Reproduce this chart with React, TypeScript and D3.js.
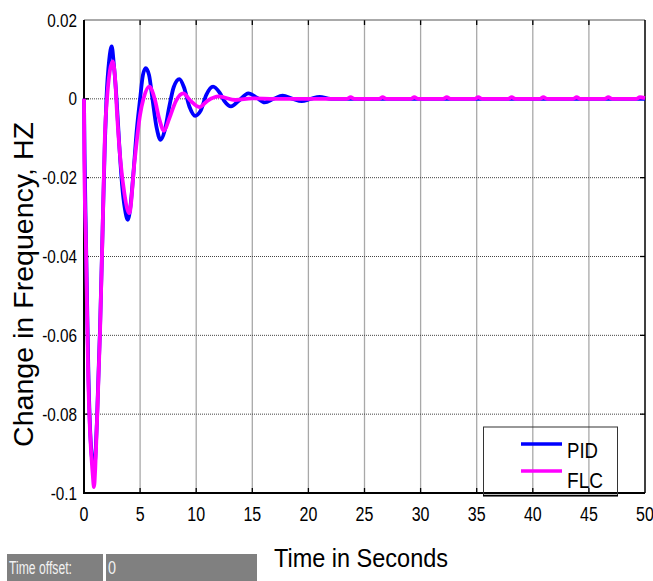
import React from "react";
import * as d3 from "d3";

// axis ticks
const xTicks = [0, 5, 10, 15, 20, 25, 30, 35, 40, 45, 50];
const yTicks = [-0.1, -0.08, -0.06, -0.04, -0.02, 0, 0.02];
const yTickLabels = ["-0.1", "-0.08", "-0.06", "-0.04", "-0.02", "0", "0.02"];

// PID response [time s, delta f Hz]
const pidSeries: [number, number][] = [
  [0, 0], [0.05, -0.014], [0.18, -0.036], [0.38, -0.068], [0.6, -0.087], [0.9, -0.094],
  [1.15, -0.082], [1.43, -0.058], [1.66, -0.033], [1.85, -0.012], [2.0, 0],
  [2.25, 0.01], [2.47, 0.0133], [2.65, 0.009], [2.9, 0], [3.15, -0.012],
  [3.4, -0.022], [3.65, -0.028], [3.9, -0.0307], [4.15, -0.027], [4.4, -0.019],
  [4.7, -0.008], [5.0, 0], [5.25, 0.006], [5.5, 0.0078], [5.8, 0.006], [6.1, 0],
  [6.45, -0.007], [6.83, -0.0104], [7.2, -0.008], [7.6, -0.002], [8.0, 0.003],
  [8.5, 0.005], [8.9, 0.003], [9.4, -0.002], [9.9, -0.0043], [10.4, -0.003],
  [10.9, 0.001], [11.5, 0.0031], [12.1, 0.0015], [12.5, -0.0005], [13.1, -0.0019],
  [13.8, -0.0005], [14.65, 0.0014], [15.4, 0.0003], [16.1, -0.0009], [16.9, 0],
  [17.7, 0.0008], [18.6, 0], [19.4, -0.0006], [20.2, 0], [21.0, 0.0005], [22.0, 0],
  [50, 0],
];

// FLC response [time s, delta f Hz]
const flcSeries: [number, number][] = [
  [0, 0], [0.03, -0.016], [0.18, -0.038], [0.3, -0.059], [0.38, -0.071],
  [0.53, -0.084], [0.77, -0.095], [0.89, -0.0985], [1.0, -0.094], [1.13, -0.084],
  [1.43, -0.059], [1.66, -0.033], [1.87, -0.0085], [2.05, 0], [2.3, 0.007],
  [2.55, 0.0095], [2.75, 0.006], [2.95, -0.004], [3.26, -0.016], [3.6, -0.024],
  [4.04, -0.029], [4.5, -0.016], [5.0, -0.004], [5.3, 0], [5.82, 0.0031],
  [6.3, 0], [6.7, -0.005], [7.13, -0.0081], [7.6, -0.005], [8.2, -0.0005],
  [8.85, 0.0014], [9.5, -0.0005], [10.28, -0.0021], [11.0, -0.0005], [12.0, 0.0006],
  [13.5, -0.0003], [15.0, 0.0001], [17.0, 0],
  [23.4, 0], [23.77, 0.0004], [24.1, 0],
  [26.3, 0], [26.62, 0.0004], [26.95, 0],
  [29.1, 0], [29.44, 0.0004], [29.8, 0],
  [32.0, 0], [32.33, 0.0004], [32.7, 0],
  [34.8, 0], [35.14, 0.0004], [35.5, 0],
  [37.8, 0], [38.12, 0.0004], [38.45, 0],
  [40.6, 0], [40.94, 0.0004], [41.3, 0],
  [43.6, 0], [43.91, 0.0004], [44.25, 0],
  [46.4, 0], [46.73, 0.0004], [47.1, 0],
  [49.2, 0], [49.55, 0.0004], [50, 0.0002],
];

const W = 653;
const H = 581;
const L = 84;
const R = 645;
const T = 20;
const B = 493;
const FONT = "'Liberation Sans', Arial, sans-serif";

export default function App() {
  const x = d3.scaleLinear().domain([0, 50]).range([L, R]);
  const y = d3.scaleLinear().domain([-0.1, 0.02]).range([B, T]);
  const line = d3
    .line<[number, number]>()
    .x((d) => x(d[0]))
    .y((d) => y(d[1]))
    .curve(d3.curveMonotoneX);

  return (
    <svg
      width={W}
      height={H}
      style={{ position: "absolute", left: 0, top: 0, background: "#fff" }}
      fontFamily={FONT}
    >
      <rect x={0} y={0} width={W} height={H} fill="#fff" />

      {/* grid */}
      {xTicks.slice(1, -1).map((t) => (
        <g key={"gx" + t}>
          <line x1={x(t)} x2={x(t)} y1={T} y2={B} stroke="#a8a8a8" strokeWidth={1.3} />
          <line x1={x(t)} x2={x(t)} y1={B} y2={B - 5} stroke="#000" strokeWidth={1.3} />
          <line x1={x(t)} x2={x(t)} y1={T} y2={T + 5} stroke="#000" strokeWidth={1.3} />
        </g>
      ))}
      {yTicks.slice(1, -1).map((v) => (
        <g key={"gy" + v}>
          <line x1={L} x2={R} y1={y(v)} y2={y(v)} stroke="#444" strokeWidth={1} strokeDasharray="1,1" />
          <line x1={L} x2={L + 5} y1={y(v)} y2={y(v)} stroke="#000" strokeWidth={1.3} />
          <line x1={R} x2={R - 5} y1={y(v)} y2={y(v)} stroke="#000" strokeWidth={1.3} />
        </g>
      ))}

      {/* frame */}
      <line x1={L} x2={R} y1={T} y2={T} stroke="#555" strokeWidth={1} />
      <line x1={R} x2={R} y1={T} y2={B} stroke="#000" strokeWidth={1.5} />
      <line x1={L} x2={L} y1={T} y2={B + 1} stroke="#000" strokeWidth={2} />
      <line x1={L} x2={R} y1={B} y2={B} stroke="#000" strokeWidth={2} />

      {/* series */}
      <path d={line(pidSeries) || ""} fill="none" stroke="#0000ff" strokeWidth={3.8} strokeLinejoin="round" />
      <path d={line(flcSeries) || ""} fill="none" stroke="#ff00ff" strokeWidth={3.8} strokeLinejoin="round" />

      {/* tick labels */}
      {xTicks.map((t) => (
        <text
          key={"xt" + t}
          transform={`translate(${x(t)},${B + 28}) scale(0.8,1)`}
          textAnchor="middle"
          fontSize={20}
          fill="#000"
        >
          {t}
        </text>
      ))}
      {yTicks.map((v, i) => (
        <text
          key={"yt" + v}
          transform={`translate(${L - 7},${y(v) + 6.5}) scale(0.85,1)`}
          textAnchor="end"
          fontSize={18}
          fill="#000"
        >
          {yTickLabels[i]}
        </text>
      ))}

      {/* axis titles */}
      <text
        x={361}
        y={567}
        textAnchor="middle"
        fontSize={25}
        textLength={174}
        lengthAdjust="spacingAndGlyphs"
      >
        Time in Seconds
      </text>
      <text
        transform={`translate(33,${(122 + 447) / 2}) rotate(-90)`}
        textAnchor="middle"
        fontSize={27}
        textLength={325}
        lengthAdjust="spacingAndGlyphs"
      >
        Change in Frequency, HZ
      </text>

      {/* legend */}
      <rect x={483.5} y={427} width={134} height={69} fill="none" stroke="#333" strokeWidth={1} />
      <line x1={483} x2={618} y1={495.5} y2={495.5} stroke="#000" strokeWidth={1.5} />
      <line x1={521} x2={562} y1={444} y2={444} stroke="#0000ff" strokeWidth={3.5} />
      <line x1={521} x2={562} y1={471} y2={471} stroke="#ff00ff" strokeWidth={3.5} />
      <text x={567} y={458} fontSize={22} textLength={31} lengthAdjust="spacingAndGlyphs">PID</text>
      <text x={567} y={488} fontSize={22} textLength={36} lengthAdjust="spacingAndGlyphs">FLC</text>

      {/* time offset strip */}
      <rect x={7} y={554} width={96} height={27} fill="#808080" />
      <rect x={106} y={554} width={151} height={27} fill="#808080" />
      <text x={9} y={574} fontSize={18} fill="#f2f2f2" textLength={63} lengthAdjust="spacingAndGlyphs">
        Time offset:
      </text>
      <text x={108} y={574} fontSize={18} fill="#f2f2f2" transform="translate(21.6,0) scale(0.8,1)">
        0
      </text>
    </svg>
  );
}
